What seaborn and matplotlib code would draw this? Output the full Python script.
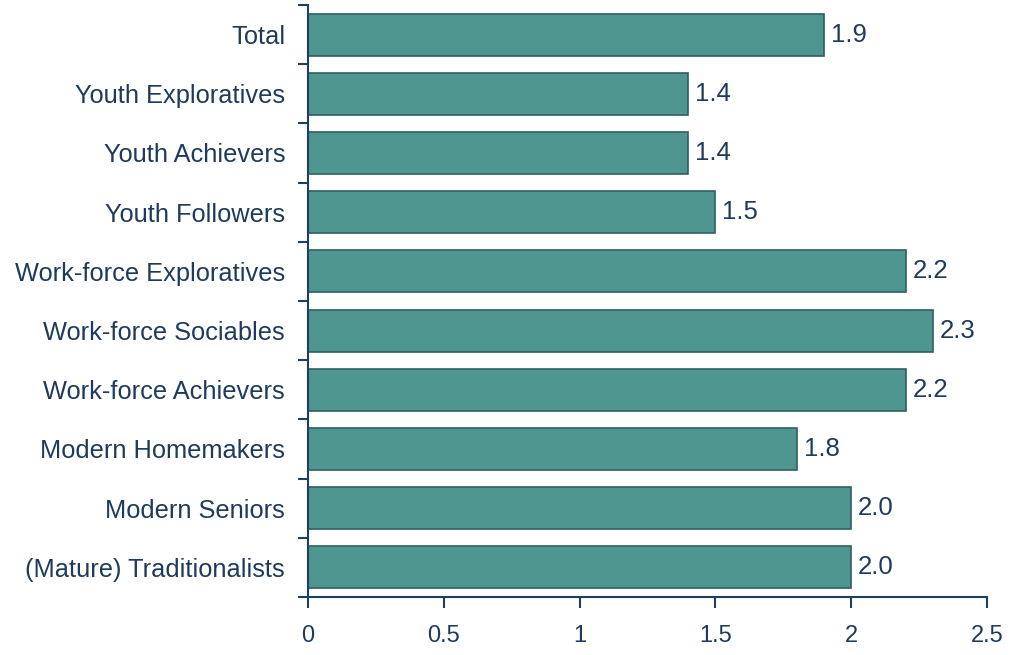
import matplotlib
matplotlib.use("Agg")
import matplotlib.pyplot as plt
import seaborn as sns
import pandas as pd
import numpy as np
from matplotlib.ticker import FixedLocator

categories = ["Total", "Youth Exploratives", "Youth Achievers", "Youth Followers",
              "Work-force Exploratives", "Work-force Sociables", "Work-force Achievers",
              "Modern Homemakers", "Modern Seniors", "(Mature) Traditionalists"]
values = [1.9, 1.4, 1.4, 1.5, 2.2, 2.3, 2.2, 1.8, 2.0, 2.0]
xticks = [0, 0.5, 1, 1.5, 2, 2.5]
xticklabels = ["0", "0.5", "1", "1.5", "2", "2.5"]

sns.set_style("white")
plt.rcParams['font.family'] = ['Liberation Sans', 'DejaVu Sans']

text_color = "#1F3A5C"
axis_color = "#1F3F60"
bar_color = "#4F9690"
edge_color = "#2F5F62"

df = pd.DataFrame({"cat": categories, "val": values})

fig = plt.figure(figsize=(10.29, 6.55), dpi=100)
ax = fig.add_axes([308/1029, 1-597/655, (987-308)/1029, (597-5)/655])

sns.barplot(data=df, y="cat", x="val", orient="h", color=bar_color, saturation=1,
            edgecolor=edge_color, linewidth=1.2, width=0.71, ax=ax)

ax.set_xlim(0, 2.5)
ax.set_ylim(len(categories) - 0.5, -0.5)
ax.set_xticks(xticks)
ax.set_xticklabels(xticklabels, fontsize=17, color=text_color)
ax.set_yticks(range(len(categories)))
ax.set_yticklabels(categories, fontsize=18.3, color=text_color)
ax.yaxis.set_minor_locator(FixedLocator(np.arange(-0.5, len(categories), 1)))
ax.tick_params(axis="y", which="major", length=0, pad=16.5)
ax.tick_params(axis="y", which="minor", length=7, width=1.5, color=axis_color, direction="out", left=True)
ax.tick_params(axis="x", which="major", length=8, width=1.5, color=axis_color, direction="out", bottom=True, pad=12)
ax.set_xlabel("")
ax.set_ylabel("")

for s in ["top", "right"]:
    ax.spines[s].set_visible(False)
for s in ["left", "bottom"]:
    ax.spines[s].set_color(axis_color)
    ax.spines[s].set_linewidth(1.5)

for i, v in enumerate(values):
    ax.text(v + 0.025, i, f"{v:.1f}", va="center", ha="left", fontsize=18.5, color=text_color)

fig.savefig("out.png", dpi=100, facecolor="white")
